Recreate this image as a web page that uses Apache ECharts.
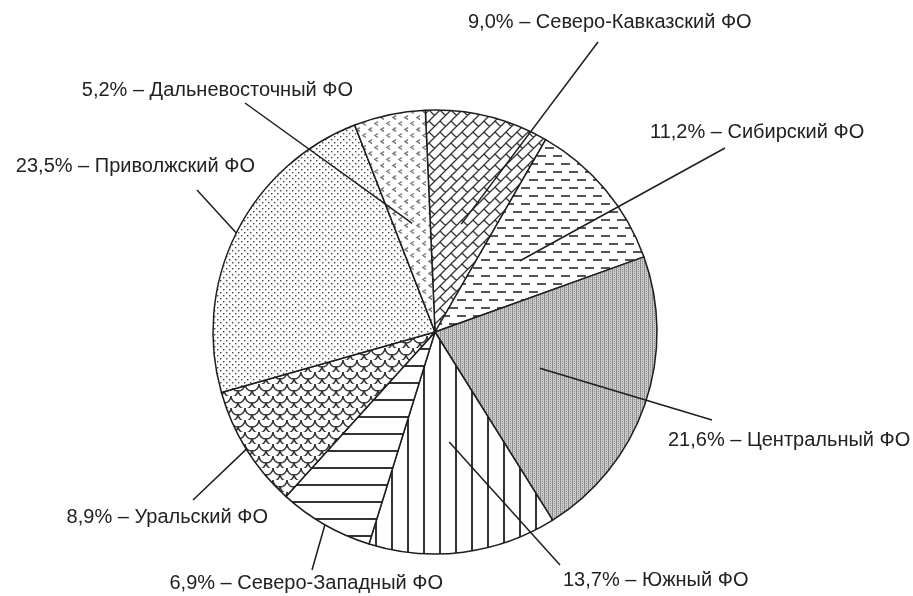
<!DOCTYPE html>
<html>
<head>
<meta charset="utf-8">
<script src="https://cdn.jsdelivr.net/npm/echarts@6/dist/echarts.min.js"></script>
<style>
  html, body { margin: 0; background: #fff; }
  #main { width: 913px; height: 596px; }
</style>
</head>
<body>
<div id="main"></div>
<script>
// доли федеральных округов, по часовой стрелке от верха
const regions = ['Северо-Кавказский ФО', 'Сибирский ФО', 'Центральный ФО', 'Южный ФО',
  'Северо-Западный ФО', 'Уральский ФО', 'Приволжский ФО', 'Дальневосточный ФО'];
const shares = [9.0, 11.2, 21.6, 13.7, 6.9, 8.9, 23.5, 5.2];

const CX = 435, CY = 332, R = 222, START = 92.5;

// где стоят подписи: x, y, выравнивание, конец выноски снаружи, глубина выноски внутрь
const labelPos = [
  { x: 468, y: 22, align: 'left', out: [598, 42], k: 0.5 },
  { x: 650, y: 132, align: 'left', out: [725, 148], k: 0.5 },
  { x: 668, y: 440, align: 'left', out: [712, 420], k: 0.5 },
  { x: 563, y: 580, align: 'left', out: [560, 565], k: 0.5 },
  { x: 443, y: 583, align: 'right', out: [312, 570], k: 1 },
  { x: 268, y: 517, align: 'right', out: [193, 500], k: 1 },
  { x: 255, y: 166, align: 'right', out: [197, 190], k: 1 },
  { x: 353, y: 90, align: 'right', out: [245, 103], k: 0.5 },
];

function tile(w, h, draw) {
  const c = document.createElement('canvas');
  c.width = w; c.height = h;
  const ctx = c.getContext('2d');
  ctx.fillStyle = '#fff';
  ctx.fillRect(0, 0, w, h);
  ctx.strokeStyle = '#333';
  ctx.fillStyle = '#333';
  draw(ctx);
  return { image: c, repeat: 'repeat' };
}

const patterns = [
  // кирпичи по диагонали
  tile(11, 11, (ctx) => {
    const H = 11 / Math.SQRT2, L = 2 * H;
    ctx.lineWidth = 1.3;
    ctx.rotate(-Math.PI / 4);
    ctx.beginPath();
    for (let k = -6; k <= 6; k++) {
      ctx.moveTo(-50, k * H); ctx.lineTo(50, k * H);
      for (let j = -6; j <= 6; j++) {
        const x = j * L + (Math.abs(k) % 2 ? L / 2 : 0);
        ctx.moveTo(x, k * H); ctx.lineTo(x, (k + 1) * H);
      }
    }
    ctx.stroke();
  }),
  // штрихи
  tile(16, 16, (ctx) => {
    ctx.fillStyle = '#555';
    ctx.fillRect(1, 3, 9, 2);
    ctx.fillRect(9, 11, 7, 2);
    ctx.fillRect(0, 11, 2, 2);
  }),
  // серая сетка
  tile(4, 4, (ctx) => {
    ctx.fillStyle = '#cacaca';
    ctx.fillRect(0, 0, 4, 4);
    ctx.fillStyle = '#8c8c8c';
    ctx.fillRect(0, 0, 1, 4);
    ctx.fillRect(2, 1, 1, 1);
    ctx.fillRect(2, 3, 1, 1);
  }),
  // вертикальные линии
  tile(16, 4, (ctx) => {
    ctx.fillRect(7, 0, 2, 4);
  }),
  // горизонтальные линии
  tile(4, 17, (ctx) => {
    ctx.fillRect(0, 8, 4, 2);
  }),
  // чешуя
  tile(14, 12, (ctx) => {
    ctx.lineWidth = 1.4;
    [[0, 0], [14, 0], [7, 6], [0, 12], [14, 12]].forEach(([x, y]) => {
      ctx.beginPath();
      ctx.arc(x, y, 7, 0, Math.PI);
      ctx.stroke();
    });
  }),
  // мелкие точки
  tile(6, 6, (ctx) => {
    ctx.fillStyle = '#444';
    ctx.fillRect(1, 1, 1.4, 1.4);
    ctx.fillRect(4, 4, 1.4, 1.4);
  }),
  // уголки
  tile(12, 12, (ctx) => {
    ctx.strokeStyle = '#777';
    ctx.lineWidth = 1.5;
    ctx.beginPath();
    ctx.moveTo(6, 1.5); ctx.lineTo(3, 3.5); ctx.lineTo(6, 5.5);
    ctx.moveTo(12, 7.5); ctx.lineTo(9, 9.5); ctx.lineTo(12, 11.5);
    ctx.moveTo(0, 7.5); ctx.lineTo(-3, 9.5); ctx.lineTo(0, 11.5);
    ctx.stroke();
  }),
];

const total = shares.reduce((a, b) => a + b, 0);
const midAngles = [];
let acc = 0;
shares.forEach((v) => {
  midAngles.push((START - (acc + v / 2) / total * 360) * Math.PI / 180);
  acc += v;
});

const pieBase = {
  type: 'pie',
  center: [CX, CY],
  radius: R,
  startAngle: START,
  clockwise: true,
  avoidLabelOverlap: false,
  emphasis: { disabled: true },
};

const chart = echarts.init(document.getElementById('main'), null, { renderer: 'canvas' });

chart.setOption({
  backgroundColor: '#fff',
  animation: false,
  series: [
    Object.assign({}, pieBase, {
      z: 2,
      data: regions.map((name, i) => ({
        name,
        value: shares[i],
        itemStyle: { color: patterns[i] },
      })),
      itemStyle: { borderColor: '#1e1e1e', borderWidth: 1.5 },
      label: { show: false },
      labelLine: { show: false },
    }),
    // прозрачный второй круг несёт подписи и выноски поверх штриховки
    Object.assign({}, pieBase, {
      z: 5,
      silent: true,
      data: regions.map((name, i) => ({ name, value: shares[i] })),
      itemStyle: { color: 'rgba(0,0,0,0)', borderWidth: 0 },
      label: {
        show: true,
        position: 'outside',
        formatter: (p) => p.value.toFixed(1).replace('.', ',') + '% – ' + p.name,
        color: '#222',
        fontSize: 20,
        fontFamily: 'Liberation Sans',
      },
      labelLine: {
        show: true,
        length: 10,
        length2: 10,
        lineStyle: { color: '#1e1e1e', width: 1.5 },
      },
      labelLayout: (params) => {
        const i = params.dataIndex;
        const lp = labelPos[i];
        const a = midAngles[i];
        const inner = [CX + lp.k * R * Math.cos(a), CY - lp.k * R * Math.sin(a)];
        return {
          x: lp.x,
          y: lp.y,
          align: lp.align,
          verticalAlign: 'middle',
          labelLinePoints: [inner, lp.out, lp.out],
        };
      },
    }),
  ],
});
</script>
</body>
</html>
